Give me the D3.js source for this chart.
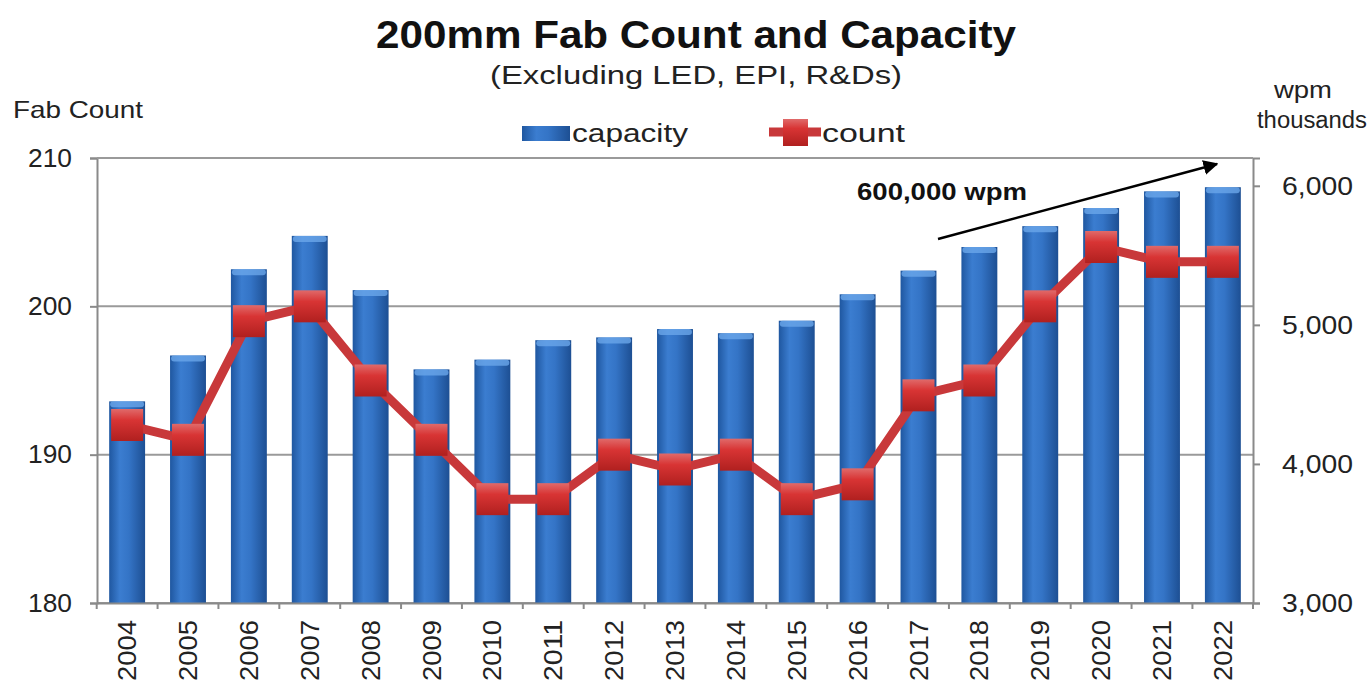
<!DOCTYPE html>
<html>
<head>
<meta charset="utf-8">
<script src="https://cdn.jsdelivr.net/npm/d3@7"></script>
<style>
  html, body { margin: 0; padding: 0; background: #fff; }
  svg { display: block; font-family: "Liberation Sans", Arial, sans-serif; }
</style>
</head>
<body>
<svg id="chart" width="1371" height="684"></svg>
<script>
// data
const years = ['2004','2005','2006','2007','2008','2009','2010','2011','2012','2013',
               '2014','2015','2016','2017','2018','2019','2020','2021','2022'];
const capacity = [4450, 4780, 5400, 5640, 5250, 4680, 4750, 4890, 4910, 4970,
                  4940, 5030, 5220, 5390, 5560, 5710, 5840, 5960, 5990];
const count = [192, 191, 199, 200, 195, 191, 187, 187, 190, 189,
               190, 187, 188, 194, 195, 200, 204, 203, 203];
const leftTicks = [180, 190, 200, 210];
const rightTicks = [3000, 4000, 5000, 6000];

const svg = d3.select('#chart');
const margin = { left: 97, right: 118, top: 158, bottom: 81 };
const W = 1371, H = 684;
const FONT = '"Liberation Sans", Arial, sans-serif';

const x = d3.scaleBand()
  .domain(years)
  .range([margin.left, W - margin.right])
  .paddingInner(0.41)
  .paddingOuter(0.2);

const yL = d3.scaleLinear().domain([180, 210]).range([H - margin.bottom, margin.top]);
const yR = d3.scaleLinear().domain([3000, 6200]).range([H - margin.bottom, margin.top]);

// text stretched to the reference width
function label(sel, o) {
  const t = sel.append('text')
    .attr('x', o.x).attr('y', o.y)
    .attr('text-anchor', o.anchor || 'start')
    .attr('font-size', o.size)
    .attr('font-weight', o.bold ? 'bold' : 'normal')
    .attr('fill', o.fill || '#222')
    .text(o.text);
  if (o.len) t.attr('textLength', o.len).attr('lengthAdjust', 'spacingAndGlyphs');
  return t;
}

/*
 * Gradients
 */
const defs = svg.append('defs');
const barGrad = defs.append('linearGradient').attr('id', 'barGrad')
  .attr('x1', 0).attr('x2', 1).attr('y1', 0).attr('y2', 0);
barGrad.append('stop').attr('offset', '0%').attr('stop-color', '#1f57a0');
barGrad.append('stop').attr('offset', '30%').attr('stop-color', '#3b7dd0');
barGrad.append('stop').attr('offset', '55%').attr('stop-color', '#3474c6');
barGrad.append('stop').attr('offset', '100%').attr('stop-color', '#1d4f93');

const markGrad = defs.append('linearGradient').attr('id', 'markGrad')
  .attr('x1', 0).attr('x2', 0).attr('y1', 0).attr('y2', 1);
markGrad.append('stop').attr('offset', '0%').attr('stop-color', '#e06a6a');
markGrad.append('stop').attr('offset', '35%').attr('stop-color', '#d83434');
markGrad.append('stop').attr('offset', '100%').attr('stop-color', '#b0201f');

defs.append('marker').attr('id', 'arrow')
  .attr('viewBox', '0 0 10 10').attr('refX', 9).attr('refY', 5)
  .attr('markerWidth', 6).attr('markerHeight', 6).attr('orient', 'auto')
  .append('path').attr('d', 'M0,0 L10,5 L0,10 z').attr('fill', '#000');

/*
 * Gridlines and frame
 */
svg.append('g').selectAll('line')
  .data(leftTicks)
  .join('line')
    .attr('x1', margin.left).attr('x2', W - margin.right)
    .attr('y1', d => yL(d)).attr('y2', d => yL(d))
    .attr('stroke', '#9a9a9a').attr('stroke-width', 2);

/*
 * Bars
 */
const bw = x.bandwidth();
const bars = svg.append('g');
bars.selectAll('rect.bar')
  .data(years)
  .join('rect')
    .attr('class', 'bar')
    .attr('x', d => x(d))
    .attr('y', (d, i) => yR(capacity[i]))
    .attr('width', bw)
    .attr('height', (d, i) => yR(3000) - yR(capacity[i]))
    .attr('fill', 'url(#barGrad)');
bars.selectAll('rect.cap')
  .data(years)
  .join('rect')
    .attr('class', 'cap')
    .attr('x', d => x(d) + 1)
    .attr('y', (d, i) => yR(capacity[i]))
    .attr('width', bw - 2)
    .attr('height', 6)
    .attr('rx', 3)
    .attr('fill', '#6aa6ea')
    .attr('opacity', 0.8);

/*
 * Axes
 */
const axisL = svg.append('g')
  .attr('transform', `translate(${margin.left},0)`)
  .call(d3.axisLeft(yL).tickValues(leftTicks).tickSize(7).tickPadding(18));
const axisR = svg.append('g')
  .attr('transform', `translate(${W - margin.right},0)`)
  .call(d3.axisRight(yR).tickValues(rightTicks).tickSize(7).tickPadding(22)
    .tickFormat(d3.format(',')));
const axisB = svg.append('g')
  .attr('transform', `translate(0,${H - margin.bottom})`)
  .call(d3.axisBottom(x).tickSize(6).tickSizeOuter(0));

[axisL, axisR, axisB].forEach(a => {
  a.select('.domain').attr('stroke', '#8a8a8a').attr('stroke-width', 2);
  a.selectAll('.tick line').attr('stroke', '#8a8a8a').attr('stroke-width', 2);
  a.selectAll('text').attr('fill', '#222').attr('font-size', 26)
    .attr('font-family', FONT);
});
axisL.selectAll('.tick text').attr('textLength', 44).attr('lengthAdjust', 'spacingAndGlyphs');
axisR.selectAll('.tick text').attr('textLength', 71).attr('lengthAdjust', 'spacingAndGlyphs');

// ticks between categories on the x axis
axisB.selectAll('.tick line')
  .attr('transform', `translate(${-x.step() / 2},0)`);
axisB.append('line')
  .attr('x1', W - margin.right).attr('x2', W - margin.right)
  .attr('y1', 0).attr('y2', 6).attr('stroke', '#8a8a8a').attr('stroke-width', 2);
axisB.selectAll('.tick text')
  .attr('font-size', 26)
  .attr('transform', 'rotate(-90)')
  .attr('text-anchor', 'end')
  .attr('dy', '0.35em')
  .attr('x', -17)
  .attr('y', 0)
  .attr('textLength', 61)
  .attr('lengthAdjust', 'spacingAndGlyphs');

// top border of plot
svg.append('line')
  .attr('x1', margin.left).attr('x2', W - margin.right)
  .attr('y1', margin.top).attr('y2', margin.top)
  .attr('stroke', '#9a9a9a').attr('stroke-width', 2);

/*
 * Count line and markers
 */
const line = d3.line()
  .x(d => x(d) + bw / 2)
  .y((d, i) => yL(count[i]));
svg.append('path')
  .datum(years)
  .attr('d', line)
  .attr('fill', 'none')
  .attr('stroke', '#c8383a')
  .attr('stroke-width', 9)
  .attr('stroke-linejoin', 'round');

const ms = 32;
svg.append('g').selectAll('rect')
  .data(years)
  .join('rect')
    .attr('x', d => x(d) + bw / 2 - ms / 2)
    .attr('y', (d, i) => yL(count[i]) - ms / 2)
    .attr('width', ms)
    .attr('height', ms)
    .attr('fill', 'url(#markGrad)');

/*
 * Annotation
 */
svg.append('line')
  .attr('x1', 938).attr('y1', 239).attr('x2', 1217).attr('y2', 164)
  .attr('stroke', '#000').attr('stroke-width', 2.5)
  .attr('marker-end', 'url(#arrow)');
label(svg, { x: 942, y: 200, anchor: 'middle', size: 23, bold: true,
             fill: '#111', len: 170, text: '600,000 wpm' });

/*
 * Titles, axis labels, legend
 */
label(svg, { x: 696, y: 48, anchor: 'middle', size: 38, bold: true,
             fill: '#111', len: 640, text: '200mm Fab Count and Capacity' });
label(svg, { x: 696, y: 84, anchor: 'middle', size: 25,
             len: 412, text: '(Excluding LED, EPI, R&Ds)' });

label(svg, { x: 13, y: 118, size: 24, len: 130, text: 'Fab Count' });
label(svg, { x: 1303, y: 98, anchor: 'middle', size: 23, len: 58, text: 'wpm' });
label(svg, { x: 1312, y: 128, anchor: 'middle', size: 23, len: 110, text: 'thousands' });

const legend = svg.append('g');
legend.append('rect')
  .attr('x', 522).attr('y', 126).attr('width', 48).attr('height', 15)
  .attr('fill', 'url(#barGrad)');
label(legend, { x: 572, y: 142, size: 26, len: 116, text: 'capacity' });
legend.append('line')
  .attr('x1', 769).attr('x2', 821).attr('y1', 132).attr('y2', 132)
  .attr('stroke', '#c8383a').attr('stroke-width', 9);
legend.append('rect')
  .attr('x', 783).attr('y', 119).attr('width', 25).attr('height', 27)
  .attr('fill', 'url(#markGrad)');
label(legend, { x: 822, y: 142, size: 26, len: 83, text: 'count' });
</script>
</body>
</html>
